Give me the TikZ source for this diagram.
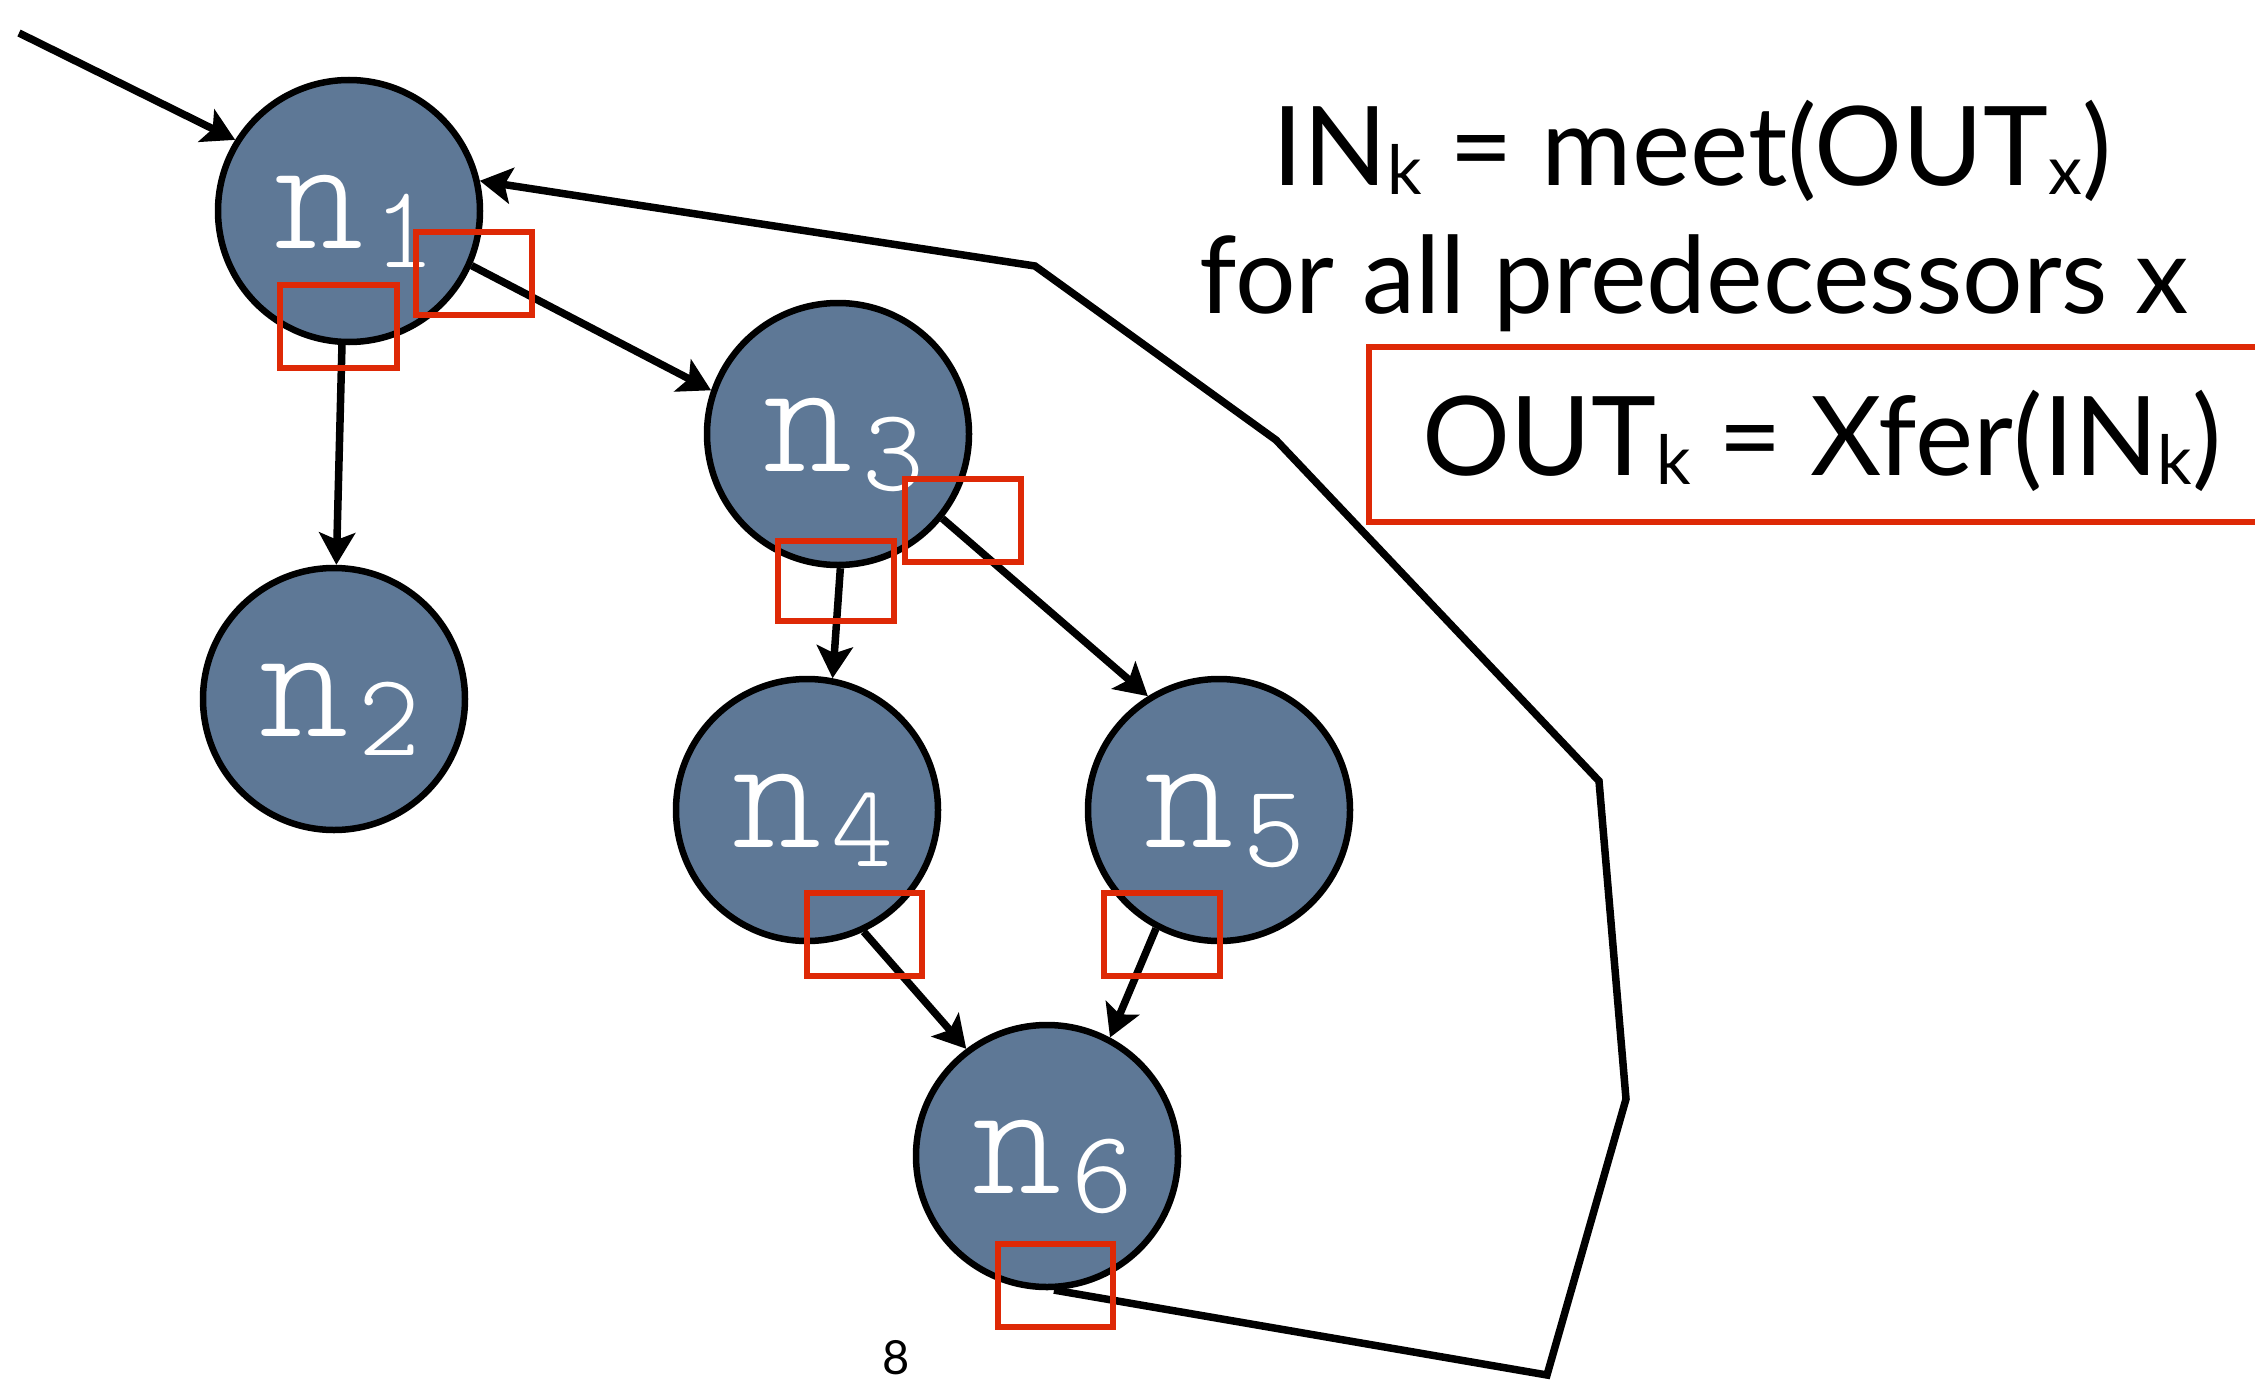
\documentclass[tikz,border=0pt]{standalone}
\usepackage{fontspec}
\setmainfont{Lato}
\usetikzlibrary{arrows.meta}
\definecolor{nodefill}{RGB}{94,120,150}
\definecolor{markred}{RGB}{222,41,6}
% block label: light typewriter n with a lowered digit
\newcommand\blocklabel[1]{{\fontsize{170}{170}\fontseries{l}\ttfamily\selectfont\kern12pt n\kern10pt\raisebox{-19pt}{\fontsize{118}{118}\selectfont #1}}}
% lowered index in the equations
\newcommand\lowidx[1]{\raisebox{-9pt}{\fontsize{68}{68}\selectfont #1}}
\begin{document}
\begin{tikzpicture}[x=1pt,y=-1pt,
  cfgnode/.style={circle, draw=black, line width=6.5pt, fill=nodefill,
    minimum size=262pt, inner sep=0pt, text=white,
    text height=80pt, text depth=6pt},
  flow/.style={line width=7.5pt, -{Stealth[length=32pt,width=36pt,inset=7pt]}},
  markbox/.style={draw=markred, line width=5.5pt},
  formula/.style={anchor=base, inner sep=0pt, font=\fontsize{110}{110}\selectfont}
]
\useasboundingbox (0,0) rectangle (2255,1381);
\clip (0,0) rectangle (2255,1381);

% blocks of the flow graph
\node[cfgnode] (n1) at (349,211)  {\blocklabel{1}};
\node[cfgnode] (n2) at (334,699)  {\blocklabel{2}};
\node[cfgnode] (n3) at (838,434)  {\blocklabel{3}};
\node[cfgnode] (n4) at (807,810)  {\blocklabel{4}};
\node[cfgnode] (n5) at (1219,810) {\blocklabel{5}};
\node[cfgnode] (n6) at (1047,1156) {\blocklabel{6}};

% entry edge
\coordinate (entry) at (19,33);
\draw[flow] (entry) -- (n1.148);

% forward edges
\draw[flow] (n1.267) -- (n2.89);
\draw[flow] (n1.336) -- (n3.161);
\draw[flow] (n3.271) -- (n4.79);
\draw[flow] (n3.321) -- (n5.122);
\draw[flow] (n4.295) -- (n6.127);
\draw[flow] (n5.242) -- (n6.62);

% back edge from n6 around to n1
\coordinate (b1) at (1547,1375);
\coordinate (b2) at (1626,1099);
\coordinate (b3) at (1599,781);
\coordinate (b4) at (1276,440);
\coordinate (b5) at (1035,266);
\draw[flow] (n6.273) -- (b1) -- (b2) -- (b3) -- (b4) -- (b5) -- (n1.13);

% program points at block boundaries
\draw[markbox] (280,285) rectangle (397,368);
\draw[markbox] (416,232) rectangle (532,315);
\draw[markbox] (778,541) rectangle (894,621);
\draw[markbox] (905,479) rectangle (1021,562);
\draw[markbox] (807,893) rectangle (922,976);
\draw[markbox] (1104,893) rectangle (1220,976);
\draw[markbox] (998,1244) rectangle (1113,1327);

% data-flow equations
\node[formula] (eqin)  at (1692,185) {IN\lowidx{k} = meet(OUT\lowidx{x})};
\node[formula, font=\fontsize{107}{107}\selectfont] (eqall) at (1694,313) {for all predecessors x};
\draw[markbox] (1369,347) rectangle (2280,522);
\node[formula] (eqout) at (1822,475) {OUT\lowidx{k} = Xfer(IN\lowidx{k})};

% page number
\node[inner sep=0pt, font=\fontsize{47}{47}\selectfont] (pagenum) at (896,1358) {8};
\end{tikzpicture}
\end{document}
